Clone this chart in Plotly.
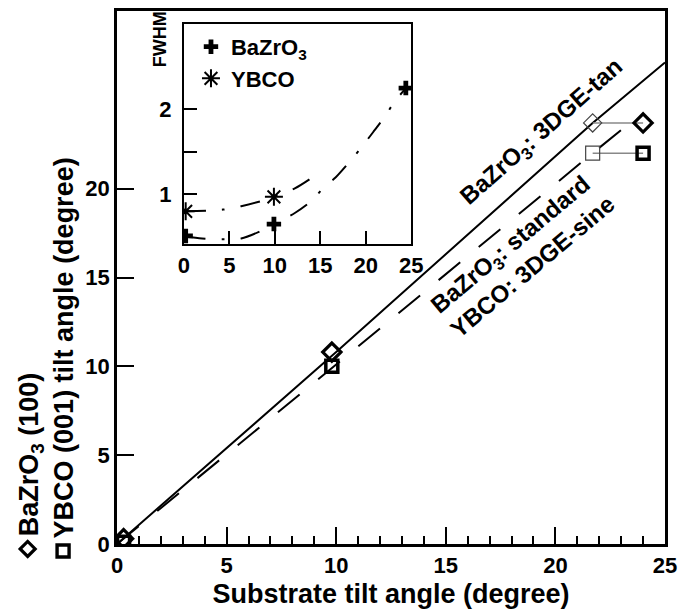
import plotly.graph_objects as go

# ---------------- data ----------------
# main panel: substrate tilt vs film tilt
bzo_x = [0.3, 9.8, 24.0]
bzo_y = [0.3, 10.8, 23.7]
ybco_x = [0.3, 9.8, 24.0]
ybco_y = [0.1, 10.0, 22.0]
# equivalent positions on the model lines
bzo_eq_x = [21.7, 24.0]
bzo_eq_y = [23.7, 23.7]
ybco_eq_x = [21.7, 24.0]
ybco_eq_y = [22.0, 22.0]
# model lines
tan_x = [0, 10, 21.7, 25]
tan_y = [0, 10.8, 23.7, 27.1]
std_x = [0, 10, 21.7, 23.8]
std_y = [0, 10.1, 22.0, 24.1]

# inset: FWHM
in_bzo_x = [0.2, 9.9, 24.4]
in_bzo_y = [0.51, 0.65, 2.25]
in_ybco_x = [0.2, 9.9]
in_ybco_y = [0.80, 0.97]
fit_bzo_x = [0.2, 2.0, 4.3, 6.3, 8.5, 9.9, 12.2, 14.0, 15.3, 16.7, 18.2, 19.5, 20.8, 22.0, 23.1, 24.4]
fit_bzo_y = [0.50, 0.48, 0.47, 0.48, 0.57, 0.65, 0.78, 0.92, 1.07, 1.20, 1.38, 1.55, 1.73, 1.90, 2.08, 2.25]
fit_ybco_x = [0.2, 4.3, 6.3, 8.5, 9.9, 12.2, 14.0]
fit_ybco_y = [0.80, 0.82, 0.86, 0.92, 0.97, 1.07, 1.19]

main_xticks = [0, 5, 10, 15, 20, 25]
main_yticks = [0, 5, 10, 15, 20]
inset_xticks = [0, 5, 10, 15, 20, 25]
inset_yticks = [1, 2]
inset_yminor = [1.5]

FONT = "Liberation Sans, Arial, Helvetica, sans-serif"
BOLD = dict(family=FONT, color="black", weight="bold")

fig = go.Figure()

# model lines
fig.add_trace(go.Scatter(x=tan_x, y=tan_y, mode="lines",
                         line=dict(color="black", width=2), showlegend=False))
fig.add_trace(go.Scatter(x=std_x, y=std_y, mode="lines",
                         line=dict(color="black", width=2, dash="28px,24px"), showlegend=False))
# connectors
fig.add_trace(go.Scatter(x=bzo_eq_x, y=bzo_eq_y, mode="lines",
                         line=dict(color="#888888", width=1.5), showlegend=False))
fig.add_trace(go.Scatter(x=ybco_eq_x, y=ybco_eq_y, mode="lines",
                         line=dict(color="#888888", width=1.5), showlegend=False))
# open (thin) equivalents
fig.add_trace(go.Scatter(x=bzo_eq_x[:1], y=bzo_eq_y[:1], mode="markers",
                         marker=dict(symbol="diamond-open", size=14, color="#444444",
                                     line=dict(width=1.2, color="#444444")), showlegend=False))
fig.add_trace(go.Scatter(x=ybco_eq_x[:1], y=ybco_eq_y[:1], mode="markers",
                         marker=dict(symbol="square-open", size=14, color="#444444",
                                     line=dict(width=1.2, color="#444444")), showlegend=False))
# measured points
fig.add_trace(go.Scatter(x=ybco_x, y=ybco_y, mode="markers",
                         marker=dict(symbol="square-open", size=12, color="black",
                                     line=dict(width=3.5, color="black")), showlegend=False))
fig.add_trace(go.Scatter(x=bzo_x, y=bzo_y, mode="markers",
                         marker=dict(symbol="diamond-open", size=14, color="black",
                                     line=dict(width=3.2, color="black")), showlegend=False))

# inset curves
fig.add_trace(go.Scatter(x=fit_bzo_x, y=fit_bzo_y, mode="lines", xaxis="x2", yaxis="y2",
                         line=dict(color="black", width=2, dash="20px,16px,3px,16px",
                                   shape="spline", smoothing=0.8), showlegend=False))
fig.add_trace(go.Scatter(x=fit_ybco_x, y=fit_ybco_y, mode="lines", xaxis="x2", yaxis="y2",
                         line=dict(color="black", width=2, dash="20px,16px,3px,16px",
                                   shape="spline", smoothing=0.8), showlegend=False))
fig.add_trace(go.Scatter(x=in_bzo_x, y=in_bzo_y, mode="markers", xaxis="x2", yaxis="y2",
                         name="BaZrO<sub>3</sub>",
                         marker=dict(symbol="cross", size=12, color="black")))
fig.add_trace(go.Scatter(x=in_ybco_x, y=in_ybco_y, mode="markers", xaxis="x2", yaxis="y2",
                         name="YBCO",
                         marker=dict(symbol="asterisk", size=15, color="black",
                                     line=dict(width=2, color="black"))))

axis_common = dict(showline=True, linecolor="black", mirror=True, showgrid=False,
                   zeroline=False, ticks="inside", tickcolor="black")

fig.update_layout(
    width=685, height=612,
    margin=dict(l=117, r=19, t=8, b=65),
    plot_bgcolor="white", paper_bgcolor="white",
    font=dict(family=FONT, color="black"),
    showlegend=True,
    legend=dict(x=0.135, y=0.972, xanchor="left", yanchor="top",
                bgcolor="rgba(0,0,0,0)", borderwidth=0,
                font=dict(size=22, **BOLD), itemwidth=30, tracegroupgap=0),
    xaxis=dict(**axis_common, range=[0, 25], tickvals=main_xticks, ticklen=17, tickwidth=2,
               linewidth=2.5, minor=dict(dtick=1, ticks="inside", ticklen=8, tickwidth=1.5,
                                         tickcolor="black"),
               tickfont=dict(size=22, **BOLD),
               title=dict(text="Substrate tilt angle (degree)", font=dict(size=27, **BOLD),
                          standoff=7)),
    yaxis=dict(**axis_common, range=[0, 30], tickvals=main_yticks, ticklen=17, tickwidth=2,
               linewidth=2.5, tickfont=dict(size=22, **BOLD)),
    xaxis2=dict(**axis_common, domain=[0.122, 0.537], anchor="y2", range=[0, 25],
                tickvals=inset_xticks, ticklen=13, tickwidth=2, linewidth=2,
                tickfont=dict(size=22, **BOLD)),
    yaxis2=dict(**axis_common, domain=[0.562, 0.975], anchor="x2", range=[0.41, 3.0],
                tickvals=inset_yticks, ticklen=13, tickwidth=2,
                minor=dict(tickvals=inset_yminor, ticks="inside", ticklen=13, tickwidth=2,
                           tickcolor="black"),
                linewidth=2, tickfont=dict(size=22, **BOLD), ticklabelstandoff=6),
)

# y-axis title symbols (drawn as shapes)
fig.add_shape(type="path", xref="paper", yref="paper", xsizemode="pixel", ysizemode="pixel",
              xanchor=-0.163, yanchor=-0.0093, path="M -7.5 0 L 0 7.5 L 7.5 0 L 0 -7.5 Z",
              line=dict(color="black", width=3.2), fillcolor="rgba(0,0,0,0)")
fig.add_shape(type="rect", xref="paper", yref="paper", xsizemode="pixel", ysizemode="pixel",
              xanchor=-0.0984, yanchor=-0.013, x0=-6, x1=6, y0=-6, y1=6,
              line=dict(color="black", width=3.4), fillcolor="rgba(0,0,0,0)")
# y-axis title, two rotated lines
fig.add_annotation(xref="paper", yref="paper", x=-0.1566, y=0.011, xanchor="center",
                   yanchor="bottom", textangle=-90, showarrow=False,
                   text="BaZrO<sub>3</sub> (100)", font=dict(size=27, **BOLD))
fig.add_annotation(xref="paper", yref="paper", x=-0.0965, y=0.006, xanchor="center",
                   yanchor="bottom", textangle=-90, showarrow=False,
                   text="YBCO (001) tilt angle (degree)", font=dict(size=27, **BOLD))
# inset y title
fig.add_annotation(xref="paper", yref="paper", x=0.080, y=1.003, xanchor="center",
                   yanchor="top", textangle=-90, showarrow=False,
                   text="FWHM", font=dict(size=18, **BOLD))
# line labels
fig.add_annotation(x=19.4, y=23.15, textangle=-41.5, showarrow=False,
                   text="BaZrO<sub>3</sub>: 3DGE-tan", font=dict(size=24, **BOLD))
fig.add_annotation(x=18.0, y=16.8, textangle=-40, showarrow=False,
                   text="BaZrO<sub>3</sub>: standard", font=dict(size=24, **BOLD))
fig.add_annotation(x=18.95, y=15.6, textangle=-40, showarrow=False,
                   text="YBCO: 3DGE-sine", font=dict(size=24, **BOLD))

fig.write_html("out.html")
